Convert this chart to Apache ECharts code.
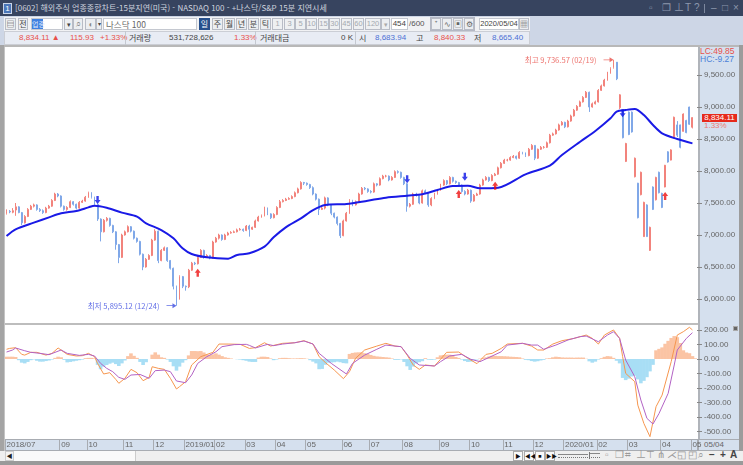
<!DOCTYPE html>
<html lang="ko">
<head>
<meta charset="utf-8">
<title>NASDAQ 100</title>
<script src="https://cdn.jsdelivr.net/npm/echarts@6/dist/echarts.min.js"></script>
<style>
html,body{margin:0;padding:0;width:743px;height:465px;overflow:hidden;background:#b4b4b4}
#shell{position:absolute;left:0;top:0;width:743px;height:465px;overflow:hidden}
#shell div{position:absolute;box-sizing:border-box;white-space:nowrap}
#chart{position:absolute;left:0;top:0;width:743px;height:465px}
</style>
</head>
<body>
<div id="shell"></div>
<div id="chart"></div>
<script>
// Daily bars of the index, sampled every other session
const opens = [
7340,7370,7355,7390,7440,7350,7190,7290,7400,7450,
7470,7400,7380,7350,7420,7450,7540,7640,7610,7450,
7400,7430,7520,7480,7420,7510,7530,7590,7660,7590,
7480,7250,7050,7230,7260,7150,7050,6850,6650,7000,
7050,7130,7060,6950,6900,6700,6500,6620,6680,6920,
7060,6600,6760,6800,6600,6480,6200,6000,6350,6200,
6190,6450,6560,6550,6650,6760,6650,6680,6640,6890,
6950,7000,6930,7000,7030,7040,7050,7080,7090,7070,
7140,7090,7120,7220,7280,7300,7420,7330,7270,7320,
7430,7520,7540,7560,7570,7600,7660,7720,7820,7810,
7790,7740,7640,7560,7400,7420,7580,7470,7340,7280,
7180,6990,7220,7340,7540,7470,7520,7640,7730,7720,
7680,7670,7800,7780,7880,7920,7920,7860,7900,7990,
7980,7900,7800,7450,7480,7640,7620,7500,7690,7660,
7470,7570,7640,7700,7780,7850,7800,7900,7840,7820,
7780,7680,7640,7700,7530,7620,7640,7780,7860,7900,
7850,7930,7950,8050,8120,8170,8170,8210,8230,8200,
8290,8280,8240,8340,8400,8200,8340,8370,8370,8440,
8560,8580,8640,8720,8760,8690,8780,8860,8950,9010,
9080,9150,9230,9000,9050,9080,9260,9330,9420,9530,
9620,9700,8990,8930,8150,8920,8920,7910,7810,7630,
6975,7470,6760,7750,7550,7980,7650,7750,8300,8170,
8520,8720,8720,8620,8790,9000,8683.94
];
const closes = [
7370,7360,7380,7440,7350,7190,7290,7400,7450,7470,
7400,7380,7350,7420,7450,7540,7640,7610,7450,7400,
7430,7520,7480,7420,7510,7530,7590,7660,7590,7480,
7250,7050,7230,7260,7150,7050,6850,6650,7000,7050,
7130,7060,6950,6900,6700,6500,6620,6680,6920,7060,
6600,6760,6800,6600,6480,6200,6000,6350,6200,6190,
6450,6560,6550,6650,6760,6650,6680,6640,6890,6950,
7000,6930,7000,7030,7040,7050,7080,7090,7070,7140,
7090,7120,7220,7280,7300,7420,7330,7270,7320,7430,
7520,7540,7560,7570,7600,7660,7720,7820,7810,7790,
7740,7640,7560,7400,7420,7580,7470,7340,7280,7180,
6990,7220,7340,7540,7470,7520,7640,7730,7720,7680,
7670,7800,7780,7880,7920,7920,7860,7900,7990,7980,
7900,7800,7450,7480,7640,7620,7500,7690,7660,7470,
7570,7640,7700,7780,7850,7800,7900,7840,7820,7780,
7680,7640,7700,7530,7620,7640,7780,7860,7900,7850,
7930,7950,8050,8120,8170,8170,8210,8230,8200,8290,
8280,8240,8340,8400,8200,8340,8370,8370,8440,8560,
8580,8640,8720,8760,8690,8780,8860,8950,9010,9080,
9150,9230,9000,9050,9080,9260,9330,9420,9530,9600,
9700,9440,9190,8520,8430,8570,8610,8200,7270,7980,
7510,6975,7120,7400,7900,7660,7430,8090,8140,8330,
8840,8560,8370,8890,8600,8730,8834.11
];
const lows = [
7320,7340,7340,7300,7340,7156,7180,7280,7390,7430,
7380,7360,7330,7340,7410,7440,7530,7590,7430,7380,
7380,7420,7460,7400,7410,7500,7520,7580,7570,7450,
7220,6900,7040,7210,7130,7030,6770,6560,6640,6990,
7040,7040,6930,6880,6680,6450,6490,6610,6670,6910,
6560,6590,6750,6580,6460,6150,5895.12,5990,6170,6130,
6170,6440,6530,6540,6640,6630,6640,6620,6630,6880,
6930,6910,6920,6990,7020,7030,7040,7070,7050,7060,
6974,7080,7110,7210,7270,7290,7310,7250,7260,7310,
7420,7510,7530,7550,7560,7590,7650,7710,7780,7770,
7720,7620,7540,7312,7390,7400,7450,7310,7260,7150,
6953,6980,7210,7330,7450,7460,7510,7630,7700,7660,
7650,7660,7760,7770,7870,7900,7840,7850,7890,7960,
7880,7780,7364,7430,7470,7600,7480,7490,7640,7440,
7450,7560,7630,7690,7770,7780,7790,7820,7800,7760,
7660,7620,7630,7503,7520,7610,7630,7770,7850,7830,
7840,7920,7940,8040,8110,8150,8160,8200,8180,8190,
8260,8220,8230,8330,8170,8190,8330,8350,8360,8430,
8550,8570,8630,8710,8670,8680,8770,8850,8940,9000,
9070,9140,8923,8990,9040,9070,9250,9320,9410,9520,
9600,9420,8970,8510,8140,8560,8600,7900,7260,7620,
6970,6970,6750,7390,7540,7650,7420,7745,8130,8165,
8510,8530,8355,8615,8590,8720,8665.40
];
const highs = [
7400,7390,7420,7500,7450,7360,7310,7420,7470,7490,
7480,7420,7400,7440,7470,7560,7660,7656,7620,7460,
7450,7540,7530,7490,7530,7550,7610,7677,7670,7600,
7490,7260,7250,7280,7270,7160,7060,6860,7020,7070,
7150,7140,7070,6960,6910,6710,6640,6700,6940,7090,
7070,6780,6820,6810,6610,6490,6210,6370,6360,6210,
6470,6580,6580,6670,6780,6770,6700,6690,6910,6970,
7020,7010,7020,7050,7060,7070,7100,7110,7100,7156,
7160,7130,7240,7300,7320,7442,7430,7340,7340,7450,
7547,7560,7580,7590,7620,7680,7740,7840,7830,7820,
7800,7760,7650,7570,7440,7600,7590,7480,7350,7290,
7190,7240,7360,7560,7550,7540,7660,7750,7750,7730,
7700,7820,7810,7900,7940,7940,7930,7920,8010,8010,
7990,7910,7810,7500,7660,7660,7630,7710,7710,7670,
7590,7660,7720,7800,7870,7860,7920,7910,7850,7830,
7790,7700,7720,7710,7640,7660,7800,7880,7920,7910,
7950,7970,8068,8140,8190,8190,8230,8250,8240,8310,
8300,8290,8360,8420,8406,8350,8390,8390,8460,8580,
8600,8660,8740,8780,8770,8800,8880,8970,9030,9100,
9170,9250,9240,9070,9100,9280,9350,9440,9550,9620,
9736.57,9690,9200,8940,8440,8930,8930,8210,7815,7990,
7520,7480,7130,7760,7910,7990,7660,8095,8310,8340,
8850,8780,8725,8900,8800,9005,8840.33
];

// Moving average readings as [bar, value]
const movingAverage = [
[0,6984],[3,7089],[9,7193],[14,7276],[18,7339],[23,7375],[27,7432],[29,7458],[33,7427],[38,7349],
[43,7286],[46,7182],[51,7078],[55,6948],[58,6792],[61,6703],[66,6651],[73,6630],[76,6687],[80,6714],
[85,6818],[88,6964],[92,7120],[97,7260],[101,7390],[105,7469],[112,7484],[119,7536],[125,7583],[132,7614],
[137,7636],[142,7703],[147,7766],[152,7770],[156,7729],[162,7739],[171,7948],[179,8083],[183,8250],[189,8458],
[194,8625],[199,8823],[201,8927],[204,8953],[207,8969],[210,8875],[213,8719],[216,8589],[221,8500],[226,8432]
];

// Oscillator lines as [bar, value]
const macdLine = [
[0,67],[1,73],[3,78],[5,32],[6,27],[8,46],[10,46],[13,27],[15,39],[17,76],[20,32],[23,21],[25,23],[27,39],[29,16],
[30,-30],[32,-103],[34,-94],[36,-140],[37,-167],[39,-133],[41,-71],[43,-94],[45,-149],[47,-126],[48,-53],[50,-64],
[52,-71],[54,-133],[56,-206],[57,-190],[59,-156],[61,-41],[64,16],[68,46],[70,103],[73,103],[77,101],[80,73],
[82,78],[85,112],[87,89],[91,108],[95,112],[98,126],[101,103],[103,16],[105,-23],[108,-76],[111,-135],[113,-87],
[115,5],[118,62],[122,89],[125,108],[128,89],[130,85],[132,27],[134,-41],[136,-71],[138,-41],[141,-48],[143,-2],
[145,46],[149,48],[152,5],[155,-32],[158,32],[160,39],[163,73],[165,103],[170,108],[173,89],[175,62],[177,62],
[180,103],[183,126],[187,142],[191,165],[193,142],[195,103],[197,165],[200,200],[202,142],[203,16],[204,-99],
[207,-156],[208,-317],[210,-443],[212,-534],[214,-328],[216,-248],[219,-18],[221,165],[223,188],[225,218],[226,200]
];
const signalLine = [
[0,48],[2,62],[3,76],[6,57],[8,46],[11,39],[14,30],[18,62],[20,39],[24,25],[27,32],[29,21],[31,-30],[33,-64],[35,-87],
[37,-126],[39,-140],[41,-110],[44,-106],[47,-133],[49,-80],[52,-76],[54,-87],[56,-151],[59,-163],[61,-110],[63,-30],
[66,16],[69,50],[71,85],[75,99],[79,101],[80,94],[82,76],[86,101],[88,92],[91,103],[95,112],[98,124],[101,103],
[103,39],[107,-30],[112,-103],[114,-30],[118,27],[122,67],[125,96],[128,89],[130,85],[133,5],[136,-41],[141,-48],
[143,-18],[146,21],[150,32],[153,-2],[156,-18],[159,11],[163,50],[165,96],[170,108],[173,96],[175,96],[177,67],
[181,96],[185,131],[189,154],[191,158],[195,119],[198,165],[200,188],[202,142],[204,-7],[207,-122],[209,-282],
[211,-408],[213,-447],[215,-374],[218,-236],[220,-41],[221,62],[224,142],[226,181]
];
const histogram = [
16,16,16,14,-8,-25,-30,-20,-8,-3,
-12,-18,-18,-14,-10,-4,8,16,12,-6,
-23,-20,-16,-12,-8,-4,6,8,8,4,
-40,-70,-52,-41,-32,-25,-35,-48,-30,-10,
20,39,22,8,-20,-41,-22,0,30,46,
30,12,8,-4,-20,-50,-80,-52,-25,-8,
25,55,55,54,55,45,30,28,32,39,
30,20,12,8,4,0,-2,-4,-8,-12,
-18,-20,-20,10,16,16,14,4,-8,-4,
6,8,8,6,4,4,5,6,5,2,
-8,-18,-30,-70,-68,-40,-25,-24,-22,-18,
-22,-28,-30,35,42,45,46,46,40,35,
28,22,18,16,14,12,10,4,-6,-6,
-3,-20,-50,-75,-52,-30,-22,-15,6,-5,
-6,-4,12,25,28,30,30,26,14,8,
-4,-14,-20,-18,-5,-3,3,8,12,18,
22,22,20,20,19,18,16,15,14,12,
4,-6,-8,-14,-18,-15,-10,-6,4,6,
12,16,14,11,10,10,10,9,10,10,
10,2,-16,-25,-18,-4,6,15,20,18,
8,-12,-30,-130,-145,-135,-120,-115,-140,-167,
-150,-125,-85,-40,60,70,80,105,125,145,
158,150,110,60,45,40,20,5
];

const priceTicks = [6000,6500,7000,7500,8000,8500,9000,9500];
const macdTicks = [-500,-400,-300,-200,-100,0,100,200];
const monthTicks = [
[0,'2018/07'],[18,'09'],[27,'10'],[39,'11'],[49,'12'],[59,'2019/01'],[69,'02'],[79,'03'],[89,'04'],[99,'05'],
[111,'06'],[120,'07'],[131,'08'],[143,'09'],[153,'10'],[164,'11'],[174,'12'],[184,'2020/01'],[195,'02'],[205,'03'],[216,'04'],[226,'05']
];
const sellSignals = [[30,7547],[132,7870],[151,7911],[203,8901]];
const buySignals = [[63,6412],[149,7640],[161,7771],[217,7609]];
const extremes = {
  high: {point:[200,9736.57], text:'최고 9,736.57 (02/19)'},
  low: {point:[56,5895.12], text:'최저 5,895.12 (12/24)'}
};

const KR = '"Noto Sans CJK KR","Noto Sans",sans-serif';
const LAT = '"Liberation Sans","Noto Sans CJK KR",sans-serif';

/* Terminal window around the chart */
const shell = document.getElementById('shell');
function box(x,y,w,h,style,text){
  const d = document.createElement('div');
  d.style.cssText = `left:${x}px;top:${y}px;width:${w}px;height:${h}px;${style||''}`;
  if(text!==undefined) d.textContent = text;
  shell.appendChild(d);
  return d;
}
function txt(x,y,text,color,size,family,extra){
  box(x,y,0,12,`font:${size||8}px/12px ${family||KR};color:${color||'#444'};${extra||''}`,text);
}
function btn(x,y,w,h,text,extra){
  box(x,y,w,h,`background:#eceef1;border:1px solid #b8bcc6;text-align:center;font:8px/${h-2}px ${KR};color:#444;${extra||''}`,text);
}
// frame and title bar
box(0,0,743,16,'background:#37445f');
box(3,3,9,11,'background:#4a76b8;border:1px solid #c8d4e8;color:#fff;font:8px/9px '+LAT+';text-align:center','1');
txt(15,2,'[0602] 해외주식 업종종합차트-15분지연(미국) - NASDAQ 100 - +나스닥/S&P 15분 지연시세','#cfd4df',8,KR);
[[649,'▫'],[662,'❐'],[674,'⊥'],[685,'T'],[694,'?'],[711,'–'],[722,'□'],[733,'×']].forEach(a=>txt(a[0],2,a[1],'#8d98ad',10,LAT));
box(704,4,1,9,'background:#7d889e');
// toolbar rows
box(0,16,743,30,'background:#cdd6e6');
box(4,17,526,14,'background:#f1f2f4');
btn(5,18,11,12,'▤','font-size:8px');
btn(18,18,10,12,'전');
box(31,18,32,12,'background:#fff;border:1px solid #c4c8d0');
box(32,19,11,10,`background:#3f80e0;color:#dfe9fb;font:7px/10px ${KR}`,'업종');
btn(64,18,9,12,'▾','font-size:7px');
btn(73,18,10,12,'⌕','font-size:9px;color:#888');
btn(85,18,11,12,'◖','font-size:8px;color:#888');
btn(96,18,6,12,'▾','font-size:6px');
box(103,18,94,12,`background:#fff;border:1px solid #c4c8d0;font:8.5px/10px ${KR};color:#666;padding-left:2px`,'나스닥 100');
btn(199,18,11,12,'일','background:#27508c;color:#fff;border-color:#27508c');
[[212,'주'],[224,'월'],[236,'년'],[248,'분'],[260,'틱']].forEach(a=>btn(a[0],18,11,12,a[1]));
[[272,'1'],[284,'3'],[295,'5'],[306,'10'],[318,'15'],[329,'30'],[341,'45'],[353,'60'],[365,'120']].forEach(a=>btn(a[0],18,a[1].length>2?16:11,12,a[1],`color:#a4a9b0;background:#eef0f2;font:7.5px/10px ${LAT}`));
btn(381,18,9,12,'▾','font-size:7px;color:#aaa');
box(391,18,17,12,`background:#fff;border:1px solid #c4c8d0;text-align:right;font:8px/10px ${LAT};color:#444;padding-right:1px`,'454');
txt(409,18,'/600','#555',8,LAT);
box(430,17,45,14,'background:#e8eaee;border:1px solid #b4b8c4');
[[431,'⁺'],[442,'∿'],[453,'▣'],[464,'⚙']].forEach(a=>btn(a[0],18,10,12,a[1],'color:#666'));
box(479,18,40,12,`background:#fff;border:1px solid #c4c8d0;text-align:center;font:7.5px/10px ${LAT};color:#444`,'2020/05/04');
btn(519,18,10,12,'▦','font-size:8px;color:#666');
box(4,31,526,14,'background:#e8ecf4;border:1px solid #cbced5');
txt(19,32,'8,834.11 ▲','#e8504a',8,LAT);
txt(70,32,'115.93','#e8504a',8,LAT);
txt(100,32,'+1.33%','#e8504a',8,LAT);
box(125,31,1,14,'background:#c4c8d0');
txt(129,32,'거래량','#444',8);
txt(169,32,'531,728,626','#444',8,LAT);
txt(234,32,'1.33%','#e8504a',8,LAT);
box(255,31,1,14,'background:#c4c8d0');
txt(260,32,'거래대금','#444',8);
txt(341,32,'0 K','#444',8,LAT);
box(355,31,1,14,'background:#c4c8d0');
txt(359,32,'시','#444',8);
txt(375,32,'8,683.94','#4a70d4',8,LAT);
txt(416,32,'고','#444',8);
txt(434,32,'8,840.33','#e8504a',8,LAT);
txt(474,32,'저','#444',8);
txt(492,32,'8,665.40','#4a70d4',8,LAT);
// plot backgrounds and the value panel
box(0,45,743,2,'background:#b8b8b8');
box(0,45,4,420,'background:#a4a4a4');
box(4,47,1,404,'background:#c4c4c4');
box(5,47,693,392,'background:#fff');
box(5,323,693,2,'background:#bdbdbd');
box(698,47,41,404,'background:#d5e0ee');
box(698,47,2,404,'background:#b0b4ba');
box(739,45,4,420,'background:#9c9c9c');
box(5,439,734,12,'background:#d5e0ee;border-top:1px solid #a8acb2;border-bottom:1px solid #a8acb2');
box(698,439,1,12,'background:#a8acb2');
txt(704,439,'05/04','#666',8,LAT);
box(733,326,5,5,'background:#666;border:1px solid #aaa');
txt(700,45,'LC:49.85','#e8504a',8.5,LAT);
txt(700,53,'HC:-9.27','#4a80d8',8.5,LAT);
box(702,114,35,8,`background:#e62a1c;color:#fff;font:8px/8px ${LAT};text-align:center`,'8,834.11');
txt(704,120,'1.33%','#ec7a70',8,LAT);
// scrollbar and playback strip
box(0,451,743,10,'background:#efefef');
box(5,451,9,10,'background:#f4f4f4;border:1px solid #ccc;color:#222;font:6px/8px '+LAT+';text-align:center','◀');
box(14,451,122,10,'background:#fafafa;border-right:1px solid #ccc');
[[513,'▶'],[524,'◀◀'],[535,'■'],[545,'▶▶']].forEach(a=>box(a[0],451,10,10,`background:#fafafa;border:1px solid #aaa;color:#111;font:5.5px/8px ${LAT};text-align:center`,a[1]));
box(558,454,30,1,'background:#888');
box(558,457,42,1,'border-top:1px dotted #777');
box(589,452,1,7,'background:#777');
box(590,453,10,1,'background:#888');
[[605,'▫'],[615,'❐'],[625,'⌗'],[636,'⊥'],[646,'⊤'],[657,'⋔'],[667,'⋌'],[677,'◱'],[688,'◰'],[698,'⌕']].forEach(a=>txt(a[0],449,a[1],'#999',10,LAT));
[[709,'−'],[720,'+'],[730,'A']].forEach(a=>txt(a[0],449,a[1],'#444',10,LAT,'font-weight:bold'));
box(0,461,743,4,'background:#9a9a9a');

/* Chart */
const bars = closes.map((c,i)=>[opens[i],c,lows[i],highs[i]]);
const categories = histogram.map((_,i)=>String(i));
const monthAt = new Map(monthTicks);
const money = v => Number(v).toLocaleString('en-US',{minimumFractionDigits:2,maximumFractionDigits:2});
const DOWN = 'path://M3 0H7V5H10L5 10 0 5H3Z';
const UP = 'path://M5 0L10 5H7V10H3V5H0Z';
const POINTER = 'path://M0 2.1H6V0L10 2.5 6 5V2.9H0Z';
const labelStyle = {fontSize:8,color:'#666',fontFamily:LAT};

function callout(item,color){
  return {
    type:'scatter', xAxisIndex:0, yAxisIndex:0, silent:true,
    data:[item.point], symbol:POINTER, symbolSize:[10,5], symbolOffset:[-5,0], z:6,
    itemStyle:{color},
    label:{show:true, position:'left', distance:7, formatter:item.text, color, fontSize:7.6, fontFamily:KR}
  };
}
function signal(points,symbol,color){
  return {type:'scatter', xAxisIndex:0, yAxisIndex:0, silent:true, data:points, symbol, symbolSize:[6,8], itemStyle:{color}, z:7};
}

const chart = echarts.init(document.getElementById('chart'),null,{renderer:'canvas'});
chart.setOption({
  animation:false,
  backgroundColor:'transparent',
  grid:[
    {left:5, top:47, width:692, height:276},
    {left:5, top:325, width:692, height:114}
  ],
  xAxis:[
    {type:'category', gridIndex:0, data:categories, show:false},
    {type:'category', gridIndex:1, data:categories,
      axisLine:{show:false, onZero:false},
      axisTick:{show:true, length:11, interval:i=>monthAt.has(i), lineStyle:{color:'#a8acb2'}},
      axisLabel:{show:true, interval:i=>monthAt.has(i), formatter:(v,i)=>monthAt.get(i)||'', align:'left', verticalAlign:'top', margin:2, ...labelStyle},
      splitLine:{show:false}}
  ],
  yAxis:[
    {type:'value', gridIndex:0, position:'right', min:5625, max:9937.5, scale:true,
      axisLine:{show:false}, splitLine:{show:false},
      axisTick:{show:true, length:5, customValues:priceTicks, lineStyle:{color:'#888'}},
      axisLabel:{show:true, customValues:priceTicks, formatter:money, margin:7, ...labelStyle}},
    {type:'value', gridIndex:1, position:'right', min:-550, max:234, scale:true,
      axisLine:{show:false}, splitLine:{show:false},
      axisTick:{show:true, length:5, customValues:macdTicks, lineStyle:{color:'#888'}},
      axisLabel:{show:true, customValues:macdTicks, formatter:money, margin:7, ...labelStyle}}
  ],
  series:[
    {type:'candlestick', name:'NASDAQ 100', xAxisIndex:0, yAxisIndex:0, data:bars, barWidth:1.4, z:2,
      itemStyle:{color:'#f2837c', color0:'#80a8e8', borderColor:'#f2837c', borderColor0:'#80a8e8', borderWidth:1}},
    {type:'line', name:'이동평균', xAxisIndex:0, yAxisIndex:0, data:movingAverage, showSymbol:false, smooth:0.3,
      lineStyle:{color:'#1a1ae6', width:2}, z:4},
    signal(sellSignals,DOWN,'#0a12e6'),
    signal(buySignals,UP,'#ee1010'),
    callout(extremes.high,'#e8504a'),
    callout(extremes.low,'#3a4ae0'),
    {type:'bar', name:'Oscillator', xAxisIndex:1, yAxisIndex:1, barWidth:3.6, z:2,
      data:histogram.map(v=>({value:v, itemStyle:{color:v>=0?'#fbc4a4':'#a8def5'}}))},
    {type:'line', name:'MACD', xAxisIndex:1, yAxisIndex:1, data:macdLine, showSymbol:false,
      lineStyle:{color:'#f6964e', width:1}, z:3},
    {type:'line', name:'Signal', xAxisIndex:1, yAxisIndex:1, data:signalLine, showSymbol:false,
      lineStyle:{color:'#b262c4', width:1}, z:4}
  ]
});
</script>
</body>
</html>
